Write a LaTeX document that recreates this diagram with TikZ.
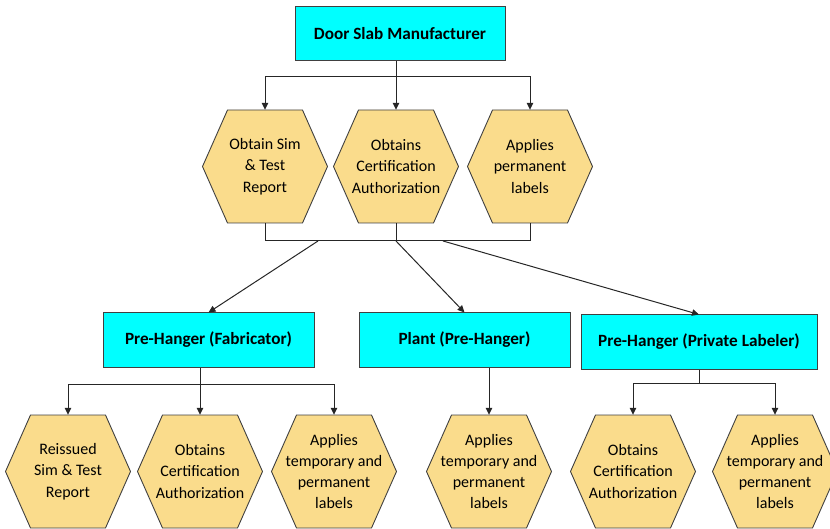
\documentclass[tikz,border=0pt]{standalone}
\usepackage{fontspec}
\setmainfont{Carlito}
\usetikzlibrary{arrows.meta}

\definecolor{boxcyan}{RGB}{0,255,255}
\definecolor{hexgold}{RGB}{250,220,140}
\definecolor{edgegray}{RGB}{64,64,64}

\tikzset{
	rolebox/.style={draw=edgegray, fill=boxcyan, line width=1pt, inner sep=0pt,
		font=\fontsize{17.2}{20}\selectfont\bfseries},
	hextext/.style={inner sep=0pt, minimum width=125pt, minimum height=113pt,
		align=center, font=\fontsize{16}{21.3}\selectfont},
	hexline/.style={draw=edgegray, fill=hexgold, line width=0.9pt},
	link/.style={draw=black!85, line width=1pt},
}

% hexagon cell: name, x, y, text
\newcommand{\hexcell}[4]{%
	\filldraw[hexline] (#2-62.5,#3) -- (#2-37.5,#3-56.5) -- (#2+37.5,#3-56.5)
		-- (#2+62.5,#3) -- (#2+37.5,#3+56.5) -- (#2-37.5,#3+56.5) -- cycle;
	\node[hextext] (#1) at (#2,#3) {#4};
}

\begin{document}
\begin{tikzpicture}[x=1pt, y=-1pt, >={Triangle[length=7pt,width=6.5pt]}]
				\useasboundingbox (0,0) rectangle (830,529);
				\clip (0,0) rectangle (830,529);
				% manufacturer and its steps
				\node[rolebox, minimum width=210pt, minimum height=54pt] (door) at (400,34) {Door Slab Manufacturer};
				\hexcell{hA}{265}{166.5}{Obtain Sim\\ \& Test\\ Report}
				\hexcell{hB}{396}{166.5}{Obtains\\ Certification\\ Authorization}
				\hexcell{hC}{530}{166.5}{Applies\\ permanent\\ labels}
				% the three pre-hangers
				\node[rolebox, minimum width=211pt, minimum height=54pt] (fab) at (208.5,340) {Pre-Hanger (Fabricator)};
				\node[rolebox, minimum width=211pt, minimum height=54pt] (plant) at (464.5,340) {Plant (Pre-Hanger)};
				\node[rolebox, minimum width=236pt, minimum height=54pt] (priv) at (699,342) {Pre-Hanger (Private Labeler)};
				% their steps
				\hexcell{rA}{68}{471.5}{Reissued\\ Sim \& Test\\ Report}
				\hexcell{rB}{200}{471.5}{Obtains\\ Certification\\ Authorization}
				\hexcell{rC}{334}{471.5}{Applies\\ temporary and\\ permanent\\ labels}
				\hexcell{rD}{489}{471.5}{Applies\\ temporary and\\ permanent\\ labels}
				\hexcell{rE}{633}{471.5}{Obtains\\ Certification\\ Authorization}
				\hexcell{rF}{775}{471.5}{Applies\\ temporary and\\ permanent\\ labels}
				% connectors
				\coordinate (topbus) at (0,77);
				\coordinate (midbus) at (0,241);
				\coordinate (fabbus) at (0,384);
				\coordinate (privbus) at (0,383);
				\draw[link, ->] (door.south -| hB.north) -- (hB.north);
				\draw[link, ->] (topbus -| hB.north) -- (topbus -| hA.north) -- (hA.north);
				\draw[link, ->] (topbus -| hB.north) -- (topbus -| hC.north) -- (hC.north);
				\draw[link] (hA.south) -- (midbus -| hA.south) -- (midbus -| hC.south) -- (hC.south);
				\draw[link] (hB.south) -- (midbus -| hB.south);
				\coordinate (jF) at (318,241);
				\coordinate (jP) at (396,241);
				\coordinate (jL) at (443,241);
				\draw[link, ->] (jF) -- (fab.north);
				\draw[link, ->] (jP) -- (plant.north);
				\draw[link, ->] (jL) -- (priv.north);
				\draw[link, ->] (fab.south -| rB.north) -- (rB.north);
				\draw[link, ->] (fabbus -| rB.north) -- (fabbus -| rA.north) -- (rA.north);
				\draw[link, ->] (fabbus -| rB.north) -- (fabbus -| rC.north) -- (rC.north);
				\draw[link, ->] (plant.south -| rD.north) -- (rD.north);
				\draw[link] (priv.south) -- (privbus -| priv.south);
				\draw[link, ->] (privbus -| priv.south) -- (privbus -| rE.north) -- (rE.north);
				\draw[link, ->] (privbus -| priv.south) -- (privbus -| rF.north) -- (rF.north);
			\end{tikzpicture}
\end{document}
